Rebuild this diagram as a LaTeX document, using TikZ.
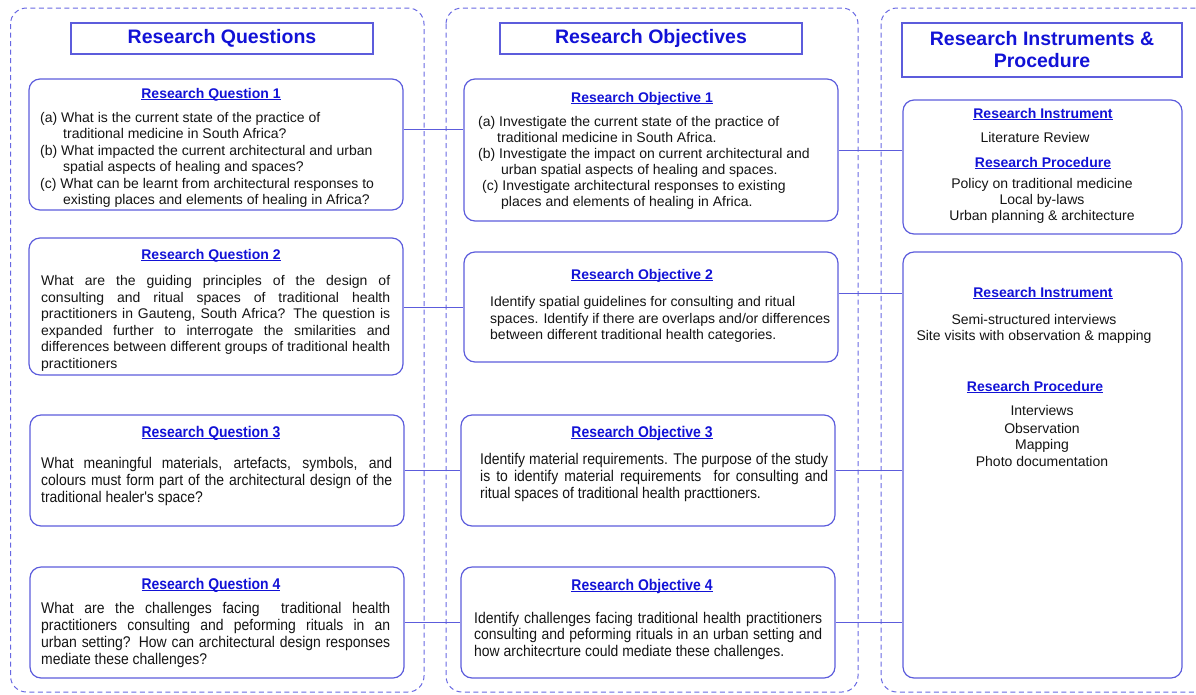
\documentclass[tikz,border=0pt]{standalone}
\usepackage{fontspec}
\setmainfont{Liberation Sans}
\newfontfamily\narrowsans[FakeStretch=0.9]{Liberation Sans}

\definecolor{frameblue}{RGB}{104,104,226}
\definecolor{boxblue}{RGB}{92,92,220}
\definecolor{headblue}{RGB}{18,18,214}
\definecolor{bodyblack}{RGB}{20,20,20}

% underlined heading: rule just below the baseline
\newcommand\ulhead[1]{\setbox0\hbox{#1}\rlap{\rule[-2.3pt]{\wd0}{1.1pt}}\box0}
% a line spread to the full column width
\newcommand\jl[2]{\makebox[#1][s]{#2}}
\newcommand\bodyfont{\fontsize{14}{16.4}\selectfont}
\newcommand\narrowbody{\narrowsans\fontsize{15.5}{17}\selectfont}
% centred block whose reference point is the first baseline
\newcommand\cblock[2]{\parbox[t]{#1}{\centering\bodyfont #2}}

\begin{document}
\begin{tikzpicture}[x=1pt,y=-1pt,
  column/.style={draw=frameblue, line width=1pt, dash pattern=on 5pt off 3.5pt, rounded corners=16pt},
  titlebox/.style={draw=boxblue, line width=1.2pt, inner sep=0pt, text=headblue,
    font=\bfseries\fontsize{19.5}{22}\selectfont, align=center},
  card/.style={draw=boxblue, line width=1.2pt, rounded corners=11pt, inner sep=0pt},
  link/.style={draw=boxblue, line width=1pt},
  head/.style={anchor=base, inner sep=0pt, text=headblue, font=\bfseries\fontsize{14}{16}\selectfont},
  headn/.style={anchor=base, inner sep=0pt, text=headblue, font=\narrowsans\bfseries\fontsize{15.5}{17}\selectfont},
  body/.style={anchor=base west, inner sep=0pt, text=bodyblack},
  bodyc/.style={anchor=base, inner sep=0pt, text=bodyblack},
]
\useasboundingbox (0,0) rectangle (1196,694);

% ---- dashed columns ----
\draw[column] (10.5,8) rectangle (424,692);
\draw[column] (446,8) rectangle (858,692);
\draw[column] (881,8) rectangle (1214,692);

% ---- column titles ----
\node[titlebox, minimum width=302pt, minimum height=31pt] (tq) at (222,38.5) {Research Questions};
\node[titlebox, minimum width=302pt, minimum height=31pt] (to) at (651,38.5) {Research Objectives};
\node[titlebox, minimum width=280pt, minimum height=54pt] (ti) at (1042,50) {Research Instruments \&\\Procedure};

% ---- question cards ----
\node[card, minimum width=374pt, minimum height=131pt] (q1) at (216,144.5) {};
\node[card, minimum width=374pt, minimum height=137pt] (q2) at (216,306.5) {};
\node[card, minimum width=374pt, minimum height=111pt] (q3) at (217,470.5) {};
\node[card, minimum width=374pt, minimum height=111pt] (q4) at (217,622.5) {};

% ---- objective cards ----
\node[card, minimum width=374pt, minimum height=142pt] (o1) at (651,150) {};
\node[card, minimum width=374pt, minimum height=110pt] (o2) at (651,307) {};
\node[card, minimum width=374pt, minimum height=111pt] (o3) at (648,470.5) {};
\node[card, minimum width=374pt, minimum height=111pt] (o4) at (648,622.5) {};

% ---- instrument cards ----
\node[card, minimum width=279pt, minimum height=134pt] (i1) at (1042.5,167) {};
\node[card, minimum width=279pt, minimum height=426pt] (i2) at (1042.5,465) {};

% ---- connector heights ----
\coordinate (r1) at (0,129);
\coordinate (r1b) at (0,150);
\coordinate (r2) at (0,307);
\coordinate (r2b) at (0,293);
\coordinate (r3) at (0,470.5);
\coordinate (r4) at (0,622);

\draw[link] (q1.east |- r1) -- (o1.west |- r1);
\draw[link] (o1.east |- r1b) -- (i1.west |- r1b);
\draw[link] (q2.east |- r2) -- (o2.west |- r2);
\draw[link] (o2.east |- r2b) -- (i2.west |- r2b);
\draw[link] (q3.east |- r3) -- (o3.west |- r3);
\draw[link] (o3.east |- r3) -- (i2.west |- r3);
\draw[link] (q4.east |- r4) -- (o4.west |- r4);
\draw[link] (o4.east |- r4) -- (i2.west |- r4);

% ---- question texts ----
\node[head] (q1h) at (211,98) {\ulhead{Research Question 1}};
\node[body] (q1t) at (40,122.5) {\parbox[t]{360pt}{\raggedright\bodyfont
(a) What is the current state of the practice of\\
\hspace*{23pt}traditional medicine in South Africa?\\
(b) What impacted the current architectural and urban\\
\hspace*{23pt}spatial aspects of healing and spaces?\\
(c) What can be learnt from architectural responses to\\
\hspace*{23pt}existing places and elements of healing in Africa?}};

\node[head] (q2h) at (211,259) {\ulhead{Research Question 2}};
\node[body] (q2t) at (41,285.5) {\parbox[t]{349pt}{\raggedright\bodyfont\setlength{\baselineskip}{16.6pt}
\jl{349pt}{What are the guiding principles of the design of}\\
\jl{349pt}{consulting and ritual spaces of traditional health}\\
\jl{349pt}{practitioners in Gauteng, South Africa? The question is}\\
\jl{349pt}{expanded further to interrogate the smilarities and}\\
\jl{349pt}{differences between different groups of traditional health}\\
practitioners}};

\node[headn] (q3h) at (211,437) {\ulhead{Research Question 3}};
\node[body] (q3t) at (41,468) {\parbox[t]{351pt}{\raggedright\narrowbody
\jl{351pt}{What meaningful materials, artefacts, symbols, and}\\
\jl{351pt}{colours must form part of the architectural design of the}\\
traditional healer's space?}};

\node[headn] (q4h) at (211,589) {\ulhead{Research Question 4}};
\node[body] (q4t) at (41,613) {\parbox[t]{349pt}{\raggedright\narrowbody
\jl{349pt}{What are the challenges facing \ traditional health}\\
\jl{349pt}{practitioners consulting and peforming rituals in an}\\
\jl{349pt}{urban setting? How can architectural design responses}\\
mediate these challenges?}};

% ---- objective texts ----
\node[head] (o1h) at (642,102) {\ulhead{Research Objective 1}};
\node[body] (o1t) at (478,126.5) {\parbox[t]{355pt}{\raggedright\bodyfont\setlength{\baselineskip}{16pt}
(a) Investigate the current state of the practice of\\
\hspace*{19pt}traditional medicine in South Africa.\\
(b) Investigate the impact on current architectural and\\
\hspace*{23pt}urban spatial aspects of healing and spaces.\\
\hspace*{4pt}(c) Investigate architectural responses to existing\\
\hspace*{23pt}places and elements of healing in Africa.}};

\node[head] (o2h) at (642,279) {\ulhead{Research Objective 2}};
\node[body] (o2t) at (490,306.5) {\parbox[t]{340pt}{\raggedright\bodyfont\setlength{\baselineskip}{16.5pt}
Identify spatial guidelines for consulting and ritual\\
spaces. Identify if there are overlaps and/or differences\\
between different traditional health categories.}};

\node[headn] (o3h) at (642,437) {\ulhead{Research Objective 3}};
\node[body] (o3t) at (480,464) {\parbox[t]{348pt}{\raggedright\narrowbody
\jl{348pt}{Identify material requirements. The purpose of the study}\\
\jl{348pt}{is to identify material requirements \ for consulting and}\\
ritual spaces of traditional health practtioners.}};

\node[headn] (o4h) at (642,590) {\ulhead{Research Objective 4}};
\node[body] (o4t) at (474,623) {\parbox[t]{348pt}{\raggedright\narrowbody\setlength{\baselineskip}{16.5pt}
\jl{348pt}{Identify challenges facing traditional health practitioners}\\
\jl{348pt}{consulting and peforming rituals in an urban setting and}\\
how architecrture could mediate these challenges.}};

% ---- instrument texts ----
\node[head] (i1h) at (1043,118) {\ulhead{Research Instrument}};
\node[bodyc] (i1a) at (1035,142.5) {\cblock{250pt}{Literature Review}};
\node[head] (i1p) at (1043,167) {\ulhead{Research Procedure}};
\node[bodyc] (i1b) at (1042,188.5) {\cblock{250pt}{\setlength{\baselineskip}{16.2pt}Policy on traditional medicine\\Local by-laws\\Urban planning \& architecture}};

\node[head] (i2h) at (1043,297) {\ulhead{Research Instrument}};
\node[bodyc] (i2a) at (1034,324.5) {\cblock{260pt}{\setlength{\baselineskip}{16pt}Semi-structured interviews\\Site visits with observation \& mapping}};
\node[head] (i2p) at (1035,391) {\ulhead{Research Procedure}};
\node[bodyc] (i2b) at (1042,415.5) {\cblock{250pt}{\setlength{\baselineskip}{16.4pt}Interviews\\[1.5pt]Observation\\Mapping\\Photo documentation}};
\end{tikzpicture}
\end{document}
